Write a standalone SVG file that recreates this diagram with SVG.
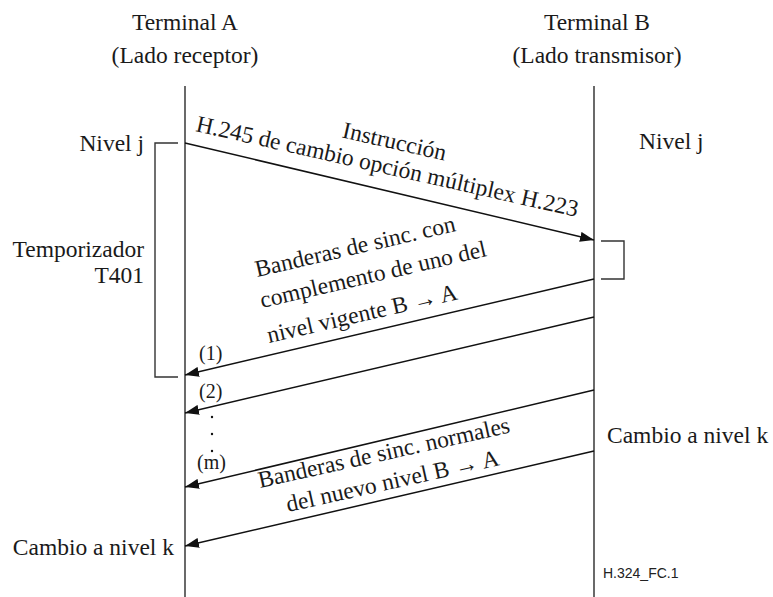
<svg xmlns="http://www.w3.org/2000/svg" width="773" height="597" viewBox="0 0 773 597">
<defs>
<style>
.t{font-family:"Liberation Serif","Times New Roman",serif;font-size:23.5px;fill:#1a1a1a}
.s{font-family:"Liberation Serif","Times New Roman",serif;font-size:20px;fill:#1a1a1a}
.m{text-anchor:middle}
.e{text-anchor:end}
.life{stroke:#444;stroke-width:1.6;fill:none}
.msg{stroke:#111;stroke-width:1.5;fill:none}
.br{stroke:#333;stroke-width:1.4;fill:none}
</style>
<marker id="ah" viewBox="0 0 14 10" refX="14" refY="5" markerWidth="14" markerHeight="10" markerUnits="userSpaceOnUse" orient="auto">
<path d="M0,0 L14,5 L0,10 Z" fill="#111"/>
</marker>
</defs>
<rect width="773" height="597" fill="#fff"/>

<g id="terminalA">
<text class="t m" x="185" y="30">Terminal A</text>
<text class="t m" x="185" y="63">(Lado receptor)</text>
<line class="life" x1="185" y1="86" x2="185" y2="597"/>
</g>
<g id="terminalB">
<text class="t m" x="597" y="30">Terminal B</text>
<text class="t m" x="597" y="63">(Lado transmisor)</text>
<line class="life" x1="594" y1="86" x2="594" y2="597"/>
</g>

<g id="timer">
<path class="br" d="M178,143 H155 V377 H178"/>
<text class="t e" x="144" y="151">Nivel j</text>
<text class="t e" x="144" y="257">Temporizador</text>
<text class="t e" x="144" y="283">T401</text>
</g>
<g id="rightbracket">
<path class="br" d="M601,241 H624 V279 H601"/>
<text class="t" x="639" y="149">Nivel j</text>
<text class="t" x="607" y="443">Cambio a nivel k</text>
</g>
<g id="leftlabels">
<text class="s" x="199" y="360">(1)</text>
<text class="s" x="199" y="398">(2)</text>
<circle cx="212" cy="417" r="1.2" fill="#111"/>
<circle cx="212" cy="434" r="1.2" fill="#111"/>
<circle cx="212" cy="451" r="1.2" fill="#111"/>
<text class="s" x="197" y="469">(m)</text>
<text class="t e" x="174" y="555">Cambio a nivel k</text>
</g>

<g id="connectors">
<line class="msg" x1="185" y1="143" x2="594" y2="240" marker-end="url(#ah)"/>
<line class="msg" x1="594" y1="279" x2="185" y2="375" marker-end="url(#ah)"/>
<line class="msg" x1="594" y1="317" x2="185" y2="413" marker-end="url(#ah)"/>
<line class="msg" x1="594" y1="390" x2="185" y2="487" marker-end="url(#ah)"/>
<line class="msg" x1="594" y1="451" x2="185" y2="546" marker-end="url(#ah)"/>
</g>

<g id="msg1label" transform="translate(195,131) rotate(12.7)">
<text class="t m" x="197" y="-26">Instrucción</text>
<text class="t" x="0" y="0">H.245 de cambio opción múltiplex H.223</text>
</g>
<g id="msg2label">
<text class="t" transform="translate(257,277) rotate(-13)">Banderas de sinc. con</text>
<text class="t" transform="translate(262,308) rotate(-13)">complemento de uno del</text>
<text class="t" transform="translate(269,343) rotate(-13)">nivel vigente B → A</text>
</g>
<g id="msg3label">
<text class="t" transform="translate(260,488) rotate(-12.5)">Banderas de sinc. normales</text>
<text class="t" transform="translate(288,512) rotate(-12.5)">del nuevo nivel B → A</text>
</g>
<text x="603" y="578" style="font-family:'Liberation Sans',Arial,sans-serif;font-size:14px;fill:#222">H.324_FC.1</text>
</svg>
